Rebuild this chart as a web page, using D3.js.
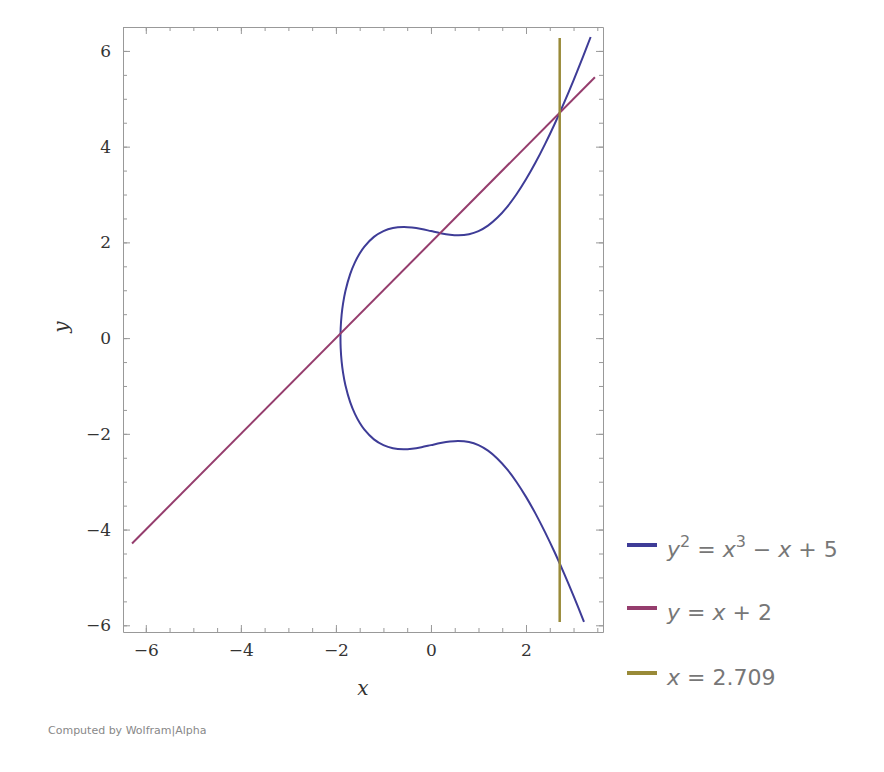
<!DOCTYPE html>
<html><head><meta charset="utf-8">
<script src="https://cdn.jsdelivr.net/npm/d3@7"></script>
<style>body{margin:0;background:#fff}</style>
</head><body>
<svg id="c" width="884" height="772"></svg>
<script>
const curveX = [-1.904,-1.9,-1.88,-1.85,-1.8,-1.7,-1.6,-1.5,-1.4,-1.2,-1.0,-0.8,-0.577,-0.4,-0.2,0,0.2,0.4,0.577,0.8,1.0,1.2,1.4,1.6,1.8,2.0,2.2,2.4,2.6,2.8,3.0,3.2,3.36];
const curveYUpper = [0,0.202,0.485,0.720,0.984,1.337,1.582,1.768,1.912,2.115,2.236,2.300,2.321,2.310,2.279,2.236,2.193,2.160,2.148,2.171,2.236,2.351,2.519,2.738,3.005,3.317,3.667,4.053,4.469,4.914,5.385,5.880,6.291];
const lowerX = [-1.904,-1.9,-1.88,-1.85,-1.8,-1.7,-1.6,-1.5,-1.4,-1.2,-1.0,-0.8,-0.577,-0.4,-0.2,0,0.2,0.4,0.577,0.8,1.0,1.2,1.4,1.6,1.8,2.0,2.2,2.4,2.6,2.8,3.0,3.22];
const lowerY = [0,-0.202,-0.485,-0.720,-0.984,-1.337,-1.582,-1.768,-1.912,-2.115,-2.236,-2.300,-2.321,-2.310,-2.279,-2.236,-2.193,-2.160,-2.148,-2.171,-2.236,-2.351,-2.519,-2.738,-3.005,-3.317,-3.667,-4.053,-4.469,-4.914,-5.385,-5.930];
const lineX = [-6.29,3.45];
const lineY = [-4.29,5.45];
const vertX = [2.709,2.709];
const vertY = [6.27,-5.93];
const xTicks = [-6,-4,-2,0,2];
const yTicks = [-6,-4,-2,0,2,4,6];
const legendLabels = ["curve","line","vert"];
const colors = ["#3e3c97","#953d6d","#998a38"];

const svg = d3.select("#c");
const L=123,R=603,T=27,B=632;
const x = d3.scaleLinear().domain([-6.48,3.62]).range([L,R]);
const y = d3.scaleLinear().domain([6.5,-6.14]).range([T,B]);
const minX = d3.range(-6.5,3.6,0.5).filter(v=>v>=-6.48);
const minY = d3.range(-6,6.6,0.5);
const g = svg.append("g");
const axes = [
 [d3.axisBottom(x),`translate(0,${B})`,true],[d3.axisTop(x),`translate(0,${T})`,false],
 [d3.axisLeft(y),`translate(${L},0)`,true],[d3.axisRight(y),`translate(${R},0)`,false]];
axes.forEach(([ax,tr,lab],i)=>{
  const isX = i<2;
  const major = g.append("g").attr("transform",tr).call(ax.tickValues(isX?xTicks:yTicks).tickSizeInner(-7).tickSizeOuter(0).tickPadding(lab?12:0).tickFormat(lab?(d=>d<0?"\u2212"+(-d):d):""));
  major.select(".domain").attr("stroke","#999");
  major.selectAll(".tick line").attr("stroke","#999");
  major.selectAll("text").attr("font-family","'DejaVu Serif',serif").attr("font-size",17).attr("fill","#333");
  const minor = g.append("g").attr("transform",tr).call(ax.tickValues(isX?minX:minY).tickSizeInner(-4).tickSizeOuter(0).tickFormat(""));
  minor.select(".domain").remove();
  minor.selectAll(".tick line").attr("stroke","#999");
});
const ln = d3.line().x(d=>x(d[0])).y(d=>y(d[1])).curve(d3.curveMonotoneX);
const ln2 = d3.line().x(d=>x(d[0])).y(d=>y(d[1])).curve(d3.curveCatmullRom);
const up = d3.zip(curveX,curveYUpper), lo = d3.zip(lowerX,lowerY);
svg.append("path").attr("d",ln2(lo.slice().reverse().concat(up.slice(1)))).attr("fill","none").attr("stroke",colors[0]).attr("stroke-width",2);
svg.append("path").attr("d",d3.line().x(d=>x(d[0])).y(d=>y(d[1]))(d3.zip(lineX,lineY))).attr("fill","none").attr("stroke",colors[1]).attr("stroke-width",2);
svg.append("path").attr("d",d3.line().x(d=>x(d[0])).y(d=>y(d[1]))(d3.zip(vertX,vertY))).attr("fill","none").attr("stroke",colors[2]).attr("stroke-width",2.5);

svg.append("text").attr("x",363).attr("y",695).attr("text-anchor","middle").attr("font-family","'DejaVu Serif',serif").attr("font-style","italic").attr("font-size",20).attr("fill","#333").text("x");
svg.append("text").attr("transform","translate(68,327) rotate(-90)").attr("text-anchor","middle").attr("font-family","'DejaVu Serif',serif").attr("font-style","italic").attr("font-size",20).attr("fill","#333").text("y");

const leg = [[557,[["y","i"],["2","s"],[" = ",""],["x","i"],["3","s"],[" \u2212 ",""],["x","i"],[" + 5",""]]],
 [620,[["y","i"],[" = ",""],["x","i"],[" + 2",""]]],
 [685,[["x","i"],[" = 2.709",""]]]];
leg.forEach(([yy,parts],i)=>{
  svg.append("line").attr("x1",627).attr("x2",657).attr("y1",yy-12).attr("y2",yy-12).attr("stroke",colors[i]).attr("stroke-width",4);
  const t = svg.append("text").attr("x",667).attr("y",yy).attr("font-family","'DejaVu Sans',sans-serif").attr("font-size",22).attr("fill","#777");
  parts.forEach(([s,k])=>{
    const ts=t.append("tspan").text(s);
    if(k==="i") ts.attr("font-style","italic");
    if(k==="s") ts.attr("font-size",16).attr("dy",-10);
    if(k==="" && t.node().lastChild.previousSibling && t.node().lastChild.previousSibling.getAttribute("dy")==="-10") ts.attr("dy",10);
  });
});
svg.append("text").attr("x",48).attr("y",734).attr("font-family","'DejaVu Sans',sans-serif").attr("font-size",11).attr("fill","#888").text("Computed by Wolfram|Alpha");
</script>
</body></html>
